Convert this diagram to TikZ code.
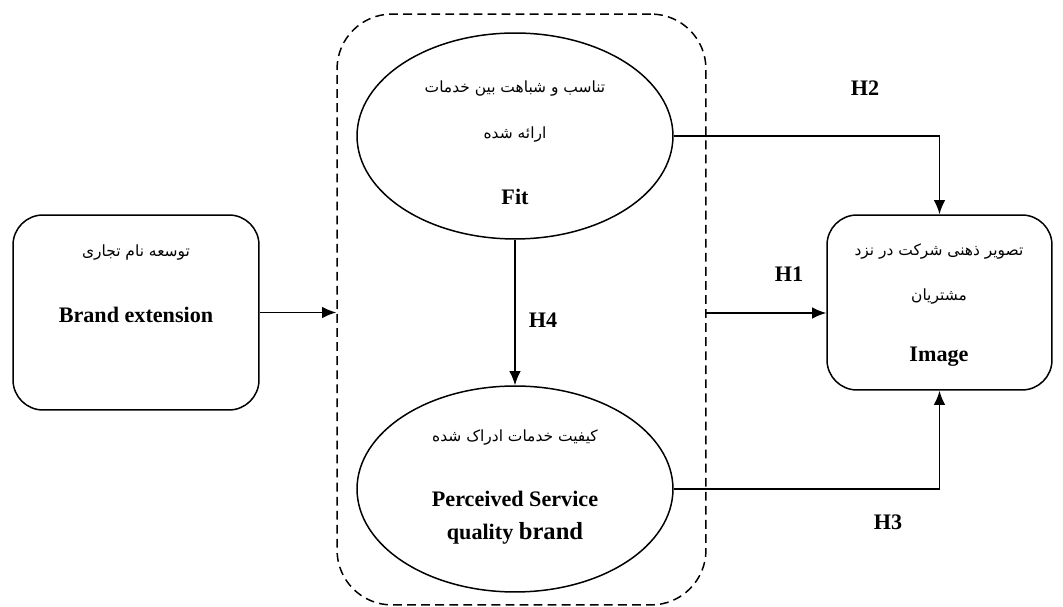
\documentclass[tikz,border=0pt]{standalone}
\usepackage{fontspec}
\setmainfont{Liberation Serif}
\newfontfamily\farsi[Script=Arabic]{DejaVu Sans}
\TeXXeTstate=1
\usetikzlibrary{shapes.geometric,arrows.meta,positioning}

\tikzset{
  box/.style={draw, rounded corners=0.6cm, inner sep=0pt, line width=0.85pt},
  oval/.style={draw, ellipse, inner sep=0pt, minimum width=6.32cm, minimum height=4.12cm, line width=0.85pt},
  group/.style={draw, dashed, dash pattern=on 5pt off 3pt, rounded corners=1.1cm, inner sep=0pt, minimum width=7.38cm, minimum height=11.82cm, line width=0.85pt},
  en/.style={font=\fontsize{12.6}{18.7}\selectfont\bfseries, align=center, inner sep=0pt},
  fa/.style={font=\farsi\fontsize{8.8}{10}\selectfont, inner sep=0pt},
  hyp/.style={font=\fontsize{12.6}{14}\selectfont\bfseries, inner sep=0pt},
  link/.style={-{Latex[length=8pt,width=6.5pt]}, line width=0.85pt}
}

\begin{document}
\begin{tikzpicture}[x=0.02cm,y=-0.02cm]
  \useasboundingbox (0,0) rectangle (1063,607);

  % the boxes
  \node[box, minimum width=4.92cm, minimum height=3.9cm] (brand) at (136,312.5) {};
  \node[box, minimum width=4.5cm, minimum height=3.5cm] (image) at (939.5,302.5) {};
  \node[group] (mediator) at (521.5,309.5) {};
  \node[oval] (fit) at (515,136) {};
  \node[oval] (quality) at (515,489) {};

  % the texts
  \node[fa] (brandfa) at (136,253) {\beginR توسعه نام تجاری\endR};
  \node[en] (brandeng) at (136,315) {Brand extension};

  \node[fa] (fitfa) at (515,89) {\beginR تناسب و شباهت بین خدمات\endR};
  \node[fa] (fitfb) at (515,135) {\beginR ارائه شده\endR};
  \node[en] (fiteng) at (515,197) {Fit};

  \node[fa] (qualityfa) at (515,438) {\beginR کیفیت خدمات ادراک شده\endR};
  \node[en] (qualityeng) at (515,518) {Perceived Service\\ quality {\fontsize{14}{18.7}\selectfont brand}};

  \node[fa] (imagefa) at (939,252) {\beginR تصویر ذهنی شرکت در نزد\endR};
  \node[fa] (imagefb) at (939,297) {\beginR مشتریان\endR};
  \node[en] (imageeng) at (939,357) {Image};

  % the hypotheses
  \node[hyp] (h2) at (865,88) {H2};
  \node[hyp] (h1) at (789,274) {H1};
  \node[hyp] (h4) at (543,320) {H4};
  \node[hyp] (h3) at (888,522) {H3};

  % the arrows
  \coordinate (h1start) at (706,313);
  \draw[link] (brand.east) -- (brand.east -| mediator.west);
  \draw[link] (fit.east) -| (image.north);
  \draw[link] (quality.east) -| (image.south);
  \draw[link] (fit.south) -- (quality.north);
  \draw[link] (h1start) -- (h1start -| image.west);

\end{tikzpicture}
\end{document}
